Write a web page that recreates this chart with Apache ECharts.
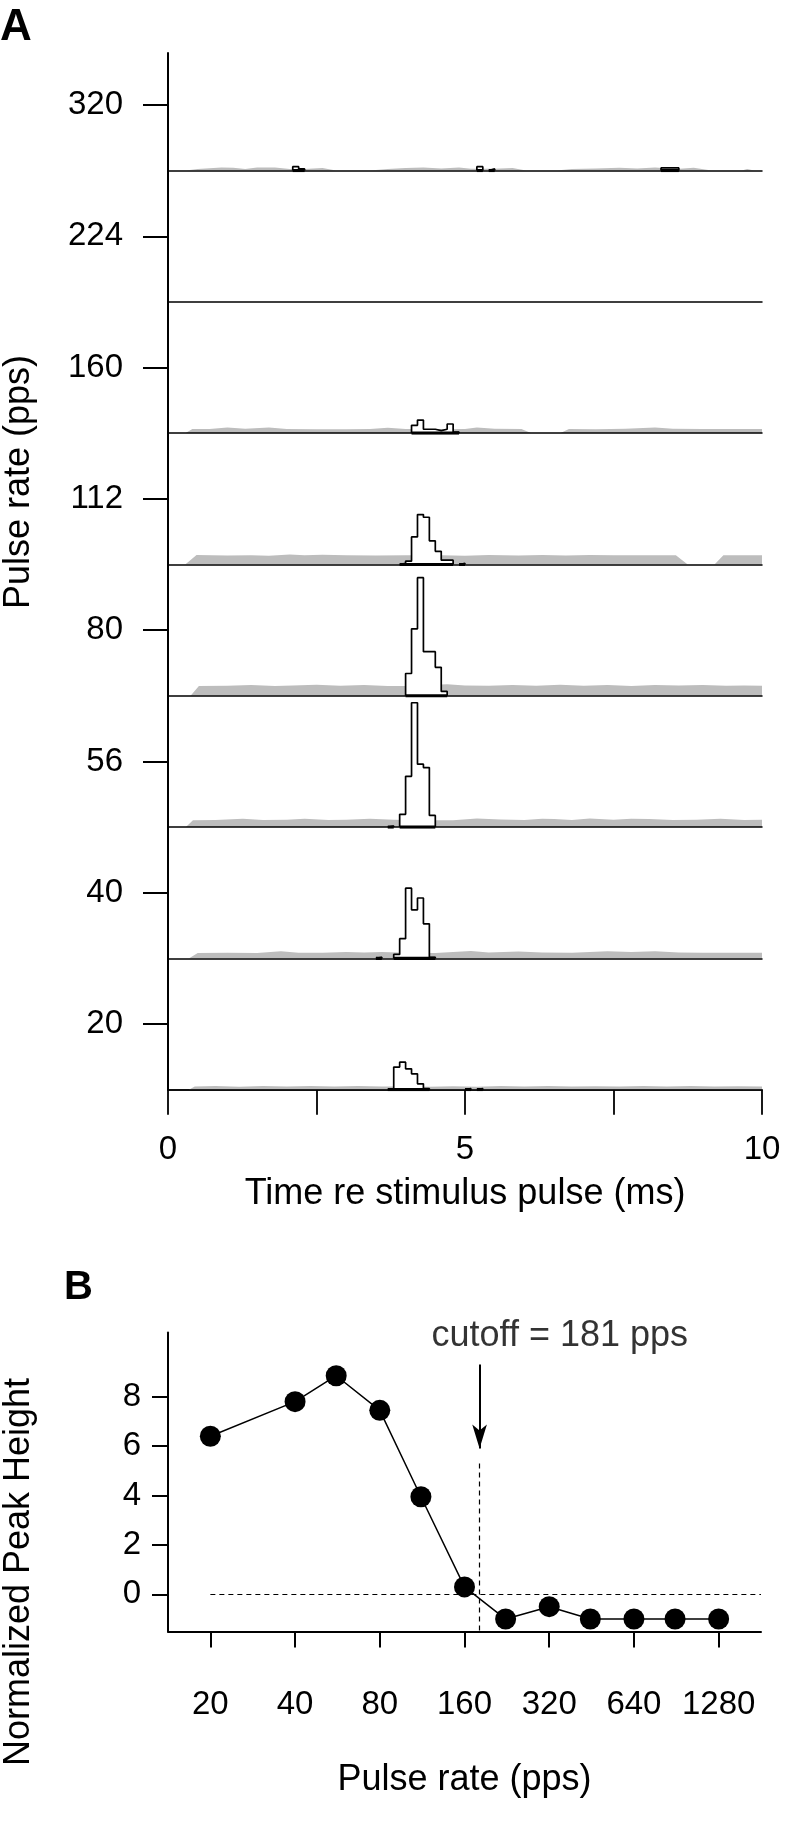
<!DOCTYPE html>
<html><head><meta charset="utf-8">
<script src="https://cdn.jsdelivr.net/npm/echarts@6/dist/echarts.min.js"></script>
<style>html,body{margin:0;padding:0;background:#fff}#c{width:786px;height:1844px}</style>
</head><body><div id="c"></div>
<script>
// ---------- Panel A data ----------
// rows listed bottom -> top
const rowLabels = ['20', '40', '56', '80', '112', '160', '224', '320'];
const binWidth = 0.1; // ms
// histogram bins: [bin start (ms), height (% of row height)]
const hist20  = [[3.7,0.8],[3.8,17.2],[3.9,21],[4.0,15.9],[4.1,12.1],[4.2,4.5],[4.3,0.8],[5.0,0.8],[5.2,0.8]];
const hist40  = [[3.5,0.8],[3.8,3],[3.9,15],[4.0,53.5],[4.1,37],[4.2,46],[4.3,26.3],[4.4,0.8]];
const hist56  = [[3.7,0.8],[3.9,9.7],[4.0,38.7],[4.1,94.7],[4.2,47.9],[4.3,45.3],[4.4,8.9]];
const hist80  = [[4.0,17],[4.1,51],[4.2,90],[4.3,33.6],[4.4,33.6],[4.5,21.7],[4.6,3.3]];
const hist112 = [[3.9,0.8],[4.0,2.5],[4.1,21],[4.2,38],[4.3,36],[4.4,18],[4.5,10],[4.6,3.3],[4.7,3.3],[4.9,0.8]];
const hist160 = [[4.1,6],[4.2,10],[4.3,3],[4.4,3],[4.5,2],[4.6,3],[4.7,7],[4.8,0.8]];
const hist224 = [];
const hist320 = [[2.1,3],[2.2,1.3],[5.2,3],[5.4,1.3],[8.3,2],[8.4,2],[8.5,2]];
// grey background band: [time (ms), height (% of row height)]
const grey20  = [[0.35,0],[0.45,2.5],[0.8,2.8],[1.2,2.3],[1.6,2.8],[2.0,2.5],[2.4,2.8],[2.8,2.5],[3.2,2.8],[3.6,2.4],[4.0,2.5],[4.4,2.2],[4.8,2.6],[5.2,2.3],[5.6,2.8],[6.0,2.5],[6.4,2.8],[6.8,2.4],[7.2,2.7],[7.6,2.5],[8.0,2.8],[8.4,2.5],[8.8,2.8],[9.2,2.4],[9.6,2.7],[10.0,2.5]];
const grey40  = [[0.35,0],[0.5,4.2],[1.0,4.3],[1.5,4.2],[1.9,5.4],[2.2,4.3],[2.6,4.3],[3.0,4.8],[3.3,4.5],[3.6,4.9],[4.0,4.3],[4.5,4.2],[5.1,5.6],[5.4,4.4],[5.9,5.2],[6.3,4.4],[6.8,4.3],[7.1,4.8],[7.4,5.5],[7.8,4.8],[8.2,5.5],[8.6,4.4],[9.0,4.3],[9.5,4.3],[10.0,4.3]];
const grey56  = [[0.3,0],[0.42,5.2],[0.8,5.5],[1.26,6.3],[1.6,5.4],[2.0,5.6],[2.3,6.3],[2.7,5.5],[3.0,5.6],[3.4,6.4],[3.8,5.6],[4.3,5.2],[4.8,5.3],[5.2,6.6],[5.6,5.8],[6.0,5.4],[6.3,6.4],[6.5,6.2],[6.8,5.5],[7.1,6.5],[7.5,5.6],[7.8,6.4],[8.1,6.2],[8.5,5.5],[8.9,5.6],[9.3,6.3],[9.7,5.5],[10.0,5.6]];
const grey80  = [[0.38,0],[0.52,7.5],[1.0,7.6],[1.4,8.3],[1.8,7.4],[2.1,7.8],[2.5,8.4],[2.9,7.6],[3.3,8.3],[3.7,7.5],[4.0,7.4],[4.7,8.8],[5.0,7.8],[5.4,7.6],[5.8,8.2],[6.2,7.6],[6.6,8.4],[7.0,7.6],[7.4,8.3],[7.8,7.5],[8.2,8.3],[8.6,7.8],[9.0,8.3],[9.4,7.6],[9.7,7.9],[10.0,7.6]];
const grey112 = [[0.29,0],[0.48,7.2],[1.0,6.9],[1.4,7.0],[1.7,6.6],[2.05,7.6],[2.3,7.0],[2.6,7.5],[3.0,7.0],[3.5,6.9],[4.0,7.0],[4.6,7.0],[5.0,6.6],[5.4,7.2],[5.9,6.8],[6.3,7.2],[6.7,6.9],[7.1,7.3],[7.5,7.0],[8.0,7.0],[8.55,7.0],[8.75,0],[9.2,0],[9.35,7.0],[10.0,7.0]];
const grey160 = [[0.29,0],[0.41,3.2],[0.7,3.2],[1.0,4.3],[1.3,3.4],[1.7,4.4],[2.0,3.2],[2.5,3.0],[3.0,3.1],[3.4,3.2],[3.7,4.2],[4.0,3.2],[4.6,3.1],[5.0,3.2],[5.2,4.3],[5.5,3.4],[5.95,3.2],[6.12,0],[6.6,0],[6.75,3.2],[7.2,3.1],[7.7,3.3],[8.2,4.4],[8.5,3.3],[9.0,3.2],[9.5,3.2],[10.0,3.2]];
const grey224 = [];
const grey320 = [[0.3,0],[0.5,1.2],[0.9,2.4],[1.1,2.2],[1.3,1.2],[1.5,2.3],[1.8,2.4],[2.05,1.2],[2.3,1.2],[2.6,2.0],[2.83,0],[3.4,0],[3.7,1.2],[4.0,2.0],[4.3,2.3],[4.6,1.6],[4.9,2.4],[5.1,1.5],[5.5,1.4],[5.8,2.0],[6.03,0],[6.54,0],[6.8,1.2],[7.2,1.6],[7.6,2.2],[7.9,1.6],[8.2,2.3],[8.56,1.2],[8.85,2.2],[9.15,0],[9.66,0],[9.75,1.2],[9.87,0]];
const timeLabels = [0, 5, 10];

// ---------- Panel B data ----------
const pulseRates = [20, 40, 56, 80, 112, 160, 224, 320, 448, 640, 896, 1280];
const peakHeights = [6.4, 7.8, 8.85, 7.45, 3.95, 0.3, -1.0, -0.5, -1.0, -1.0, -1.0, -1.0];
const rateTicks = [20, 40, 80, 160, 320, 640, 1280];
const peakTicks = [0, 2, 4, 6, 8];
const cutoffRate = 181;

// ---------- build ----------
const FONT = '"Liberation Sans", Arial, Helvetica, sans-serif';
const rowHists = [hist20, hist40, hist56, hist80, hist112, hist160, hist224, hist320];
const rowGreys = [grey20, grey40, grey56, grey80, grey112, grey160, grey224, grey320];

const A_LEFT = 168, A_WIDTH = 594, A_BOTTOM = 1089.7, ROW_H = 131.3, A_TOP = 53;

function splitRuns(bins) {
  const runs = [];
  let cur = null;
  bins.forEach(b => {
    if (cur && Math.abs(b[0] - (cur[cur.length - 1][0] + binWidth)) < 1e-6) cur.push(b);
    else { cur = [b]; runs.push(cur); }
  });
  return runs;
}
function stepPoints(run) {
  const pts = [[run[0][0], 0]];
  run.forEach(b => { pts.push([b[0], b[1]]); pts.push([b[0] + binWidth, b[1]]); });
  pts.push([run[run.length - 1][0] + binWidth, 0]);
  return pts;
}

const grids = [], xAxes = [], yAxes = [], series = [];
for (let i = 0; i < rowLabels.length; i++) {
  grids.push({ left: A_LEFT, width: A_WIDTH, top: A_BOTTOM - ROW_H * (i + 1), height: ROW_H });
  xAxes.push({ gridIndex: i, type: 'value', min: 0, max: 10, z: 3,
    axisLine: { show: true, onZero: false, lineStyle: { color: '#000', width: 1.5 } },
    axisTick: { show: false }, axisLabel: { show: false }, splitLine: { show: false } });
  yAxes.push({ gridIndex: i, type: 'value', min: 0, max: 100, show: false });
  if (rowGreys[i].length) {
    series.push({ type: 'line', xAxisIndex: i, yAxisIndex: i, data: rowGreys[i], symbol: 'none',
      lineStyle: { width: 0 }, areaStyle: { color: '#bdbdbd', opacity: 1 }, z: 1, silent: true });
  }
  splitRuns(rowHists[i]).forEach(run => {
    series.push({ type: 'line', xAxisIndex: i, yAxisIndex: i, data: stepPoints(run), symbol: 'none',
      lineStyle: { color: '#000', width: 1.7 }, areaStyle: { color: '#fff', opacity: 1 }, z: 2, silent: true });
    series.push({ type: 'line', xAxisIndex: i, yAxisIndex: i,
      data: [[run[0][0], 0], [run[run.length - 1][0] + binWidth, 0]], symbol: 'none',
      lineStyle: { color: '#000', width: 3.2 }, z: 4, silent: true });
  });
}
// frame axes for panel A
const FI = rowLabels.length;
grids.push({ left: A_LEFT, width: A_WIDTH, top: A_TOP, height: A_BOTTOM - A_TOP });
xAxes.push({ gridIndex: FI, type: 'value', min: 0, max: 10, interval: 2.5,
  axisLine: { show: true, onZero: false, lineStyle: { color: '#000', width: 1.5 } },
  axisTick: { show: true, length: 25, lineStyle: { color: '#000', width: 1.8 } },
  axisLabel: { color: '#000', fontSize: 33, fontFamily: FONT, margin: 44,
    formatter: v => timeLabels.indexOf(v) >= 0 ? String(v) : '' },
  splitLine: { show: false },
  name: 'Time re stimulus pulse (ms)', nameLocation: 'middle', nameGap: 86,
  nameTextStyle: { color: '#000', fontSize: 36, fontFamily: FONT } });
const rowTickVals = rowLabels.map((_, i) => i + 0.5);
yAxes.push({ gridIndex: FI, type: 'value', min: 0, max: (A_BOTTOM - A_TOP) / ROW_H,
  axisLine: { show: true, onZero: false, lineStyle: { color: '#000', width: 2 } },
  axisTick: { show: true, customValues: rowTickVals, length: 25, lineStyle: { color: '#000', width: 2 } },
  axisLabel: { show: true, customValues: rowTickVals, color: '#000', fontSize: 33, fontFamily: FONT, margin: 45,
    formatter: v => rowLabels[Math.floor(v)] },
  splitLine: { show: false } });

// ---------- Panel B ----------
const BI = FI + 1;
const lg = r => Math.log2(r / 20);
const B_YMIN = -1.5, B_YMAX = 10.6;
grids.push({ left: 168, width: 593, top: 1332.5, height: 298.9 });
const rateTickVals = rateTicks.map(lg);
xAxes.push({ gridIndex: BI, type: 'value', min: -0.5, max: 6.5,
  axisLine: { show: true, onZero: false, lineStyle: { color: '#000', width: 2 } },
  axisTick: { show: true, customValues: rateTickVals, length: 16, lineStyle: { color: '#000', width: 2 } },
  axisLabel: { show: true, customValues: rateTickVals, color: '#000', fontSize: 33, fontFamily: FONT, margin: 57,
    formatter: v => String(Math.round(20 * Math.pow(2, v))) },
  splitLine: { show: false },
  name: 'Pulse rate (pps)', nameLocation: 'middle', nameGap: 131,
  nameTextStyle: { color: '#000', fontSize: 36, fontFamily: FONT } });
yAxes.push({ gridIndex: BI, type: 'value', min: B_YMIN, max: B_YMAX,
  axisLine: { show: true, onZero: false, lineStyle: { color: '#000', width: 2 } },
  axisTick: { show: true, customValues: peakTicks, length: 16, lineStyle: { color: '#000', width: 2 } },
  axisLabel: { show: true, customValues: peakTicks, color: '#000', fontSize: 33, fontFamily: FONT, margin: 27 },
  splitLine: { show: false } });

const cx = lg(cutoffRate);
series.push({ type: 'line', xAxisIndex: BI, yAxisIndex: BI,
  data: pulseRates.map((r, i) => [lg(r), peakHeights[i]]),
  symbol: 'circle', symbolSize: 21, itemStyle: { color: '#000' },
  lineStyle: { color: '#000', width: 1.5 }, z: 5 });
series.push({ type: 'line', xAxisIndex: BI, yAxisIndex: BI, data: [], z: 3,
  markLine: { silent: true, symbol: ['none', 'none'], animation: false,
    lineStyle: { color: '#000', width: 1.2, type: [5, 4] }, label: { show: false },
    data: [
      [{ coord: [0, 0] }, { coord: [6.5, 0] }],
      [{ coord: [cx, 5.3] }, { coord: [cx, B_YMIN] }]
    ] } });
series.push({ type: 'line', xAxisIndex: BI, yAxisIndex: BI, data: [], z: 3,
  markLine: { silent: true, symbol: ['none', 'arrow'], symbolSize: [11, 24], animation: false,
    lineStyle: { color: '#000', width: 2, type: 'solid' }, label: { show: false },
    data: [[{ coord: [cx, 9.3] }, { coord: [cx, 5.9] }]] } });
series.push({ type: 'scatter', xAxisIndex: BI, yAxisIndex: BI, data: [[cx, 10.45]], symbolSize: 0, silent: true,
  label: { show: true, formatter: 'cutoff = ' + cutoffRate + ' pps', position: [-48, 0], align: 'left',
    verticalAlign: 'middle', color: '#000', fontSize: 36, fontFamily: FONT } });

const chart = echarts.init(document.getElementById('c'), null, { renderer: 'canvas', width: 786, height: 1844 });
chart.setOption({
  backgroundColor: '#fff',
  animation: false,
  grid: grids, xAxis: xAxes, yAxis: yAxes, series: series,
  graphic: [
    { type: 'text', left: 0, top: 6, style: { text: 'A', font: 'bold 44px ' + FONT, fill: '#000' } },
    { type: 'text', left: 64, top: 1268, style: { text: 'B', font: 'bold 40px ' + FONT, fill: '#000' } },
    { type: 'text', x: 19, y: 482, rotation: Math.PI / 2,
      style: { text: 'Pulse rate (pps)', font: '36px ' + FONT, fill: '#000', align: 'center', verticalAlign: 'middle' } },
    { type: 'text', x: 19, y: 1572, rotation: Math.PI / 2,
      style: { text: 'Normalized Peak Height', font: '36px ' + FONT, fill: '#000', align: 'center', verticalAlign: 'middle' } }
  ]
});
</script></body></html>
